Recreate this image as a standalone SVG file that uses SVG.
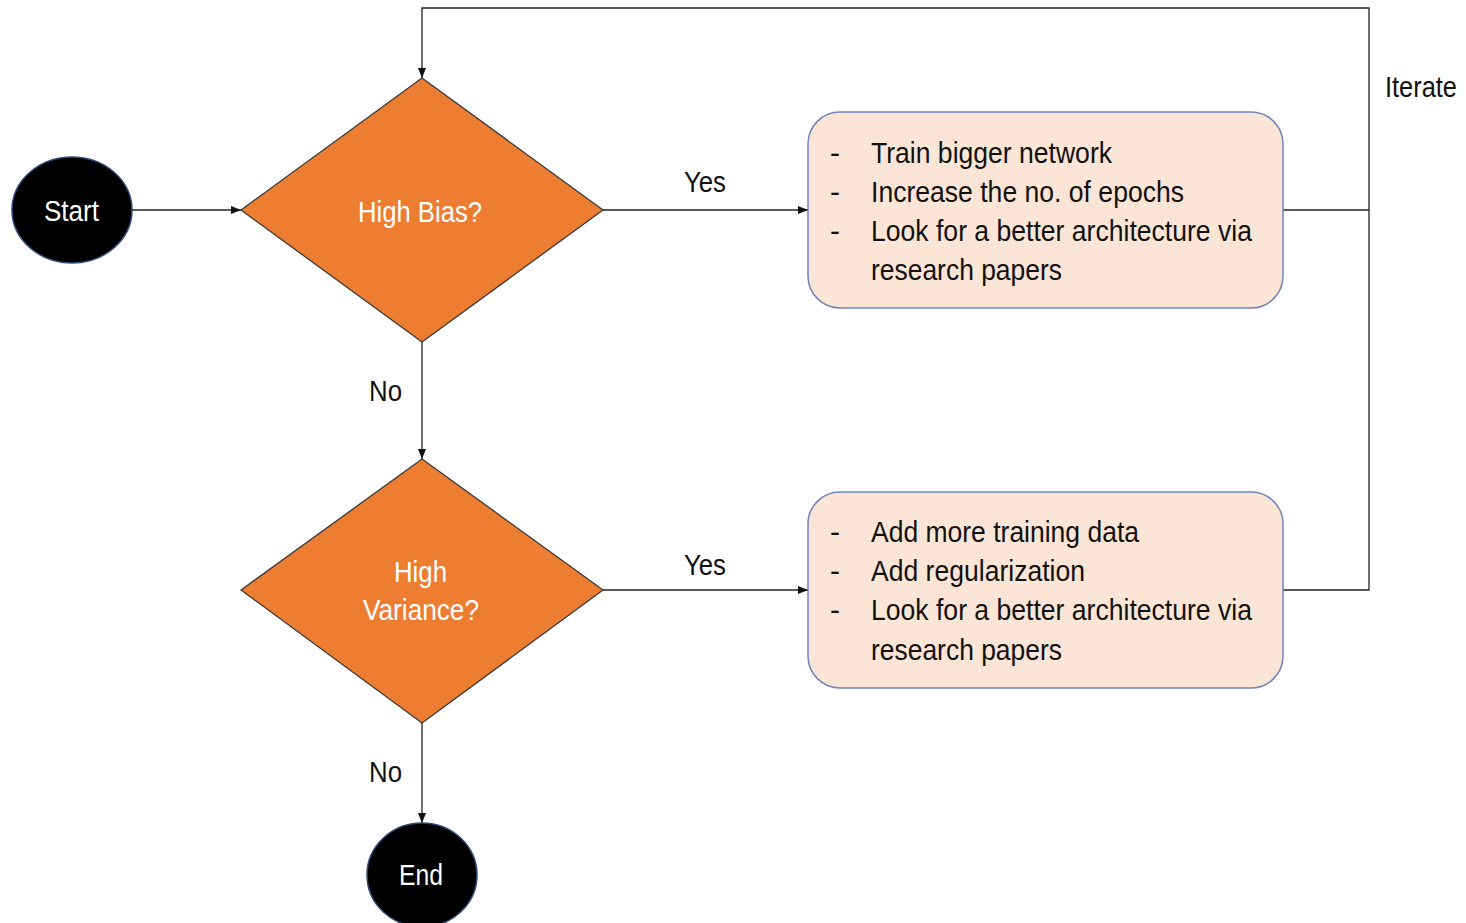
<svg xmlns="http://www.w3.org/2000/svg" width="1466" height="923" viewBox="0 0 1466 923">
<style>
  text { font-family: "Liberation Sans", Arial, sans-serif; font-size: 30px; }
  .w { fill: #ffffff; }
  .k { fill: #111111; }
  .term { fill: #000000; stroke: #2F4A7A; stroke-width: 1.5; }
  .dec { fill: #ED7D31; stroke: #3A3A3A; stroke-width: 1.3; }
  .box { fill: #FBE5D6; stroke: #7284B8; stroke-width: 1.5; }
  .ln { fill: none; stroke: #222222; stroke-width: 1.3; }
</style>
<defs>
  <marker id="ah" markerWidth="10" markerHeight="8" refX="10" refY="4" orient="auto" markerUnits="userSpaceOnUse">
    <path d="M0,0 L10,4 L0,8 Z" fill="#111111"/>
  </marker>
</defs>
<rect width="1466" height="923" fill="#ffffff"/>
<g id="connectors">
  <line class="ln" x1="132" y1="210" x2="241" y2="210" marker-end="url(#ah)"/>
  <line class="ln" x1="603" y1="210" x2="808" y2="210" marker-end="url(#ah)"/>
  <line class="ln" x1="422" y1="342" x2="422" y2="459" marker-end="url(#ah)"/>
  <line class="ln" x1="603" y1="590" x2="808" y2="590" marker-end="url(#ah)"/>
  <line class="ln" x1="422" y1="723" x2="422" y2="823" marker-end="url(#ah)"/>
  <line class="ln" x1="1283" y1="210" x2="1369" y2="210"/>
  <polyline class="ln" points="1283,590 1369,590 1369,8 422,8 422,78" marker-end="url(#ah)"/>
  <text class="k" x="684" y="192" textLength="42" lengthAdjust="spacingAndGlyphs">Yes</text>
  <text class="k" x="684" y="575" textLength="42" lengthAdjust="spacingAndGlyphs">Yes</text>
  <text class="k" x="369" y="401" textLength="33" lengthAdjust="spacingAndGlyphs">No</text>
  <text class="k" x="369" y="782" textLength="33" lengthAdjust="spacingAndGlyphs">No</text>
  <text class="k" x="1385" y="97" textLength="72" lengthAdjust="spacingAndGlyphs">Iterate</text>
</g>
<g id="start">
  <ellipse class="term" cx="72" cy="210" rx="60" ry="53"/>
  <text class="w" x="44" y="221" textLength="55" lengthAdjust="spacingAndGlyphs">Start</text>
</g>
<g id="high-bias">
  <polygon class="dec" points="422,78 603,210 422,342 241,210"/>
  <text class="w" x="358" y="222" textLength="124" lengthAdjust="spacingAndGlyphs">High Bias?</text>
</g>
<g id="high-variance">
  <polygon class="dec" points="422,459 603,590 422,723 241,590"/>
  <text class="w" x="394" y="582" textLength="53" lengthAdjust="spacingAndGlyphs">High</text>
  <text class="w" x="363" y="620" textLength="116" lengthAdjust="spacingAndGlyphs">Variance?</text>
</g>
<g id="bias-actions">
  <rect class="box" x="808" y="112" width="475" height="196" rx="32" ry="32"/>
  <text class="k" x="830" y="163">-</text>
  <text class="k" x="830" y="202">-</text>
  <text class="k" x="830" y="241">-</text>
  <text class="k" x="871" y="163" textLength="241" lengthAdjust="spacingAndGlyphs">Train bigger network</text>
  <text class="k" x="871" y="202" textLength="313" lengthAdjust="spacingAndGlyphs">Increase the no. of epochs</text>
  <text class="k" x="871" y="241" textLength="381" lengthAdjust="spacingAndGlyphs">Look for a better architecture via</text>
  <text class="k" x="871" y="280" textLength="191" lengthAdjust="spacingAndGlyphs">research papers</text>
</g>
<g id="variance-actions">
  <rect class="box" x="808" y="492" width="475" height="196" rx="32" ry="32"/>
  <text class="k" x="830" y="542">-</text>
  <text class="k" x="830" y="581">-</text>
  <text class="k" x="830" y="620">-</text>
  <text class="k" x="871" y="542" textLength="268" lengthAdjust="spacingAndGlyphs">Add more training data</text>
  <text class="k" x="871" y="581" textLength="214" lengthAdjust="spacingAndGlyphs">Add regularization</text>
  <text class="k" x="871" y="620" textLength="381" lengthAdjust="spacingAndGlyphs">Look for a better architecture via</text>
  <text class="k" x="871" y="660" textLength="191" lengthAdjust="spacingAndGlyphs">research papers</text>
</g>
<g id="end">
  <ellipse class="term" cx="422" cy="875" rx="55" ry="52"/>
  <text class="w" x="399" y="885" textLength="44" lengthAdjust="spacingAndGlyphs">End</text>
</g>
</svg>
